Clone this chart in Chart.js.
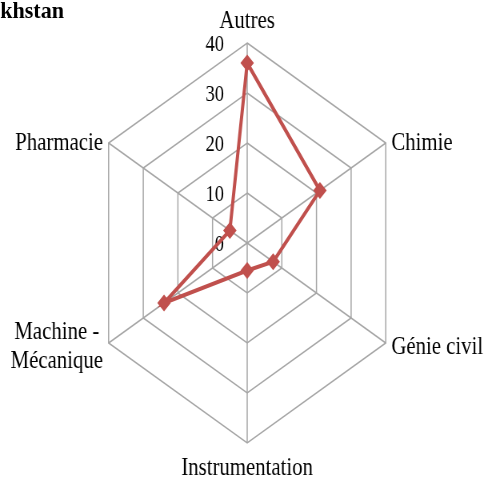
<!DOCTYPE html>
<html><head><meta charset="utf-8">
<script src="https://cdn.jsdelivr.net/npm/chart.js@4/dist/chart.umd.min.js"></script>
<style>
html,body{margin:0;padding:0;background:#fff;overflow:hidden;width:490px;height:482px}
#wrap{position:absolute;left:0;top:0;width:612px;height:482px;transform:scaleX(0.8);transform-origin:0 0}
#title{position:absolute;top:-2px;left:-136px;width:200px;text-align:right;font:bold 24px "Liberation Serif";line-height:1;white-space:nowrap;color:#000;transform:scaleX(0.92);transform-origin:100% 0}
</style></head>
<body>
<div id="wrap"><canvas id="c"></canvas></div>
<div id="title">Kazakhstan</div>
<script>
const categories = ['Autres', 'Chimie', 'Génie civil', 'Instrumentation', ['Machine -', 'Mécanique'], 'Pharmacie'];
const values = [36, 21, 7.5, 5.5, 24, 5];
const tickValues = [0, 10, 20, 30, 40];

const RED = '#c0504d';
const GRID = '#a6a6a6';

const tickLabelPlugin = {
  id: 'tickLabels',
  beforeDatasetsDraw(chart) {
    const s = chart.scales.r, ctx = chart.ctx;
    ctx.save();
    ctx.fillStyle = '#000';
    ctx.font = '23px "Liberation Serif"';
    ctx.textAlign = 'right';
    ctx.textBaseline = 'middle';
    tickValues.forEach(v => {
      const p = s.getPointPositionForValue(0, v);
      ctx.fillText(String(v), p.x - 29, p.y + 2);
    });
    ctx.restore();
  }
};

const pointLabelPlugin = {
  id: 'pointLabels',
  afterDraw(chart) {
    const s = chart.scales.r, ctx = chart.ctx;
    ctx.save();
    ctx.fillStyle = '#000';
    ctx.font = '26px "Liberation Serif"';
    ctx.textBaseline = 'middle';
    categories.forEach((lab, i) => {
      const v = s.getPointPosition(i, s.drawingArea);
      const lines = Array.isArray(lab) ? lab : [lab];
      const lh = 29;
      const n = lines.length;
      if (i === 0) {
        ctx.textAlign = 'center';
        ctx.fillText(lines[0], v.x, v.y - 22);
      } else if (i === 3) {
        ctx.textAlign = 'center';
        ctx.fillText(lines[0], v.x, v.y + 25);
      } else if (v.x > s.xCenter) {
        ctx.textAlign = 'left';
        const off = v.y > s.yCenter ? 4 : 0;
        lines.forEach((t, k) => ctx.fillText(t, v.x + 7, v.y + off + (k - (n - 1) / 2) * lh));
      } else {
        ctx.textAlign = 'center';
        const w = Math.max(...lines.map(t => ctx.measureText(t).width));
        const cx = v.x - 7 - w / 2;
        const off = v.y > s.yCenter ? 4 : 0;
        lines.forEach((t, k) => ctx.fillText(t, cx, v.y + off + (k - (n - 1) / 2) * lh));
      }
    });
    ctx.restore();
  }
};

new Chart(document.getElementById('c'), {
  type: 'radar',
  data: {
    labels: categories,
    datasets: [{
      data: values,
      borderColor: RED,
      backgroundColor: RED,
      borderWidth: 4,
      fill: false,
      pointStyle: 'rectRot',
      pointRadius: 7,
      pointBorderWidth: 2,
      pointBackgroundColor: RED,
      pointBorderColor: RED,
      tension: 0
    }]
  },
  options: {
    responsive: true,
    maintainAspectRatio: false,
    animation: false,
    layout: { padding: { top: 43, bottom: 39, left: 99, right: 93 } },
    plugins: { legend: { display: false }, tooltip: { enabled: false } },
    scales: {
      r: {
        min: 0,
        max: 40,
        ticks: { stepSize: 10, display: false },
        grid: { circular: false, color: GRID, lineWidth: 1.5 },
        angleLines: { display: true, color: GRID, lineWidth: 1.5 },
        pointLabels: { display: false }
      }
    }
  },
  plugins: [tickLabelPlugin, pointLabelPlugin]
});
</script>
</body></html>
